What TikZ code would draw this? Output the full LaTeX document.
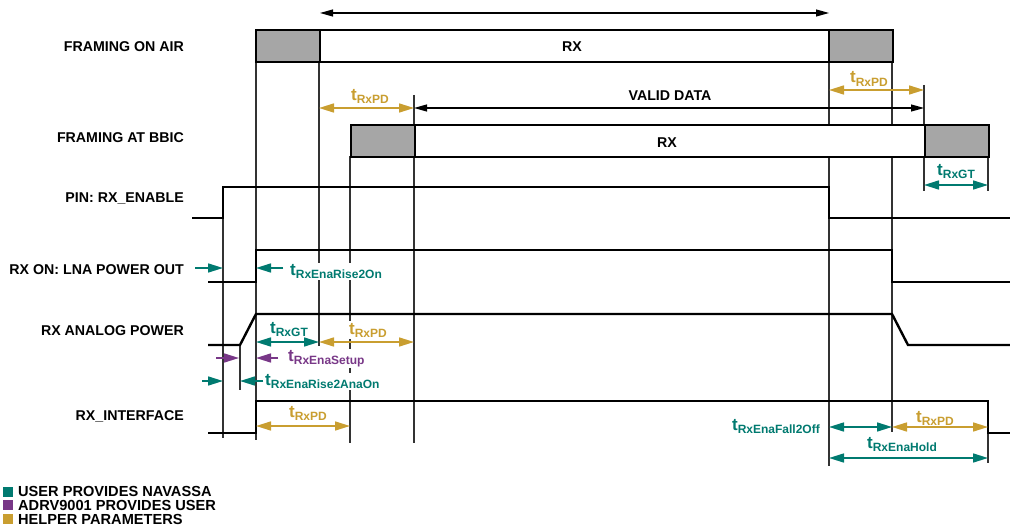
\documentclass[tikz,border=0pt]{standalone}
\usepackage{fontspec}
\setmainfont{Liberation Sans}
\usetikzlibrary{arrows.meta}
\definecolor{tteal}{RGB}{0,122,112}
\definecolor{tgold}{RGB}{201,158,48}
\definecolor{tpurple}{RGB}{120,55,135}
\definecolor{tgray}{RGB}{166,166,166}
\newcommand{\tlab}[1]{{\fontsize{17}{17}\selectfont t}\raisebox{-3.5pt}{\fontsize{12}{12}\selectfont #1}}
\tikzset{
  guide/.style={line width=1.1pt,draw=black!80},
  sig/.style={line width=2.4pt,line join=miter},
  frame/.style={line width=2pt,draw=black},
  grayframe/.style={frame,fill=tgray},
  whiteframe/.style={frame,fill=white},
  rowlab/.style={font=\bfseries\fontsize{14.2}{14.2}\selectfont,anchor=base east,inner sep=0pt},
  txtlab/.style={font=\bfseries\fontsize{14.2}{14.2}\selectfont,anchor=base,inner sep=0pt},
  leglab/.style={font=\bfseries\fontsize{14.6}{14.6}\selectfont,anchor=base west,inner sep=0pt},
  tl/.style={font=\bfseries,anchor=base,inner sep=1.5pt,fill=white},
  dimarr/.style={line width=1.6pt,{Triangle[length=15pt 0,width=9pt 0]}-{Triangle[length=15pt 0,width=9pt 0]}},
  onearr/.style={line width=1.6pt,-{Triangle[length=15pt 0,width=9pt 0]}},
  blkarr/.style={line width=1.2pt,{Triangle[length=13pt 0,width=7pt 0]}-{Triangle[length=13pt 0,width=7pt 0]}},
  teal/.style={draw=tteal,fill=tteal,text=tteal},
  gold/.style={draw=tgold,fill=tgold,text=tgold},
  purp/.style={draw=tpurple,fill=tpurple,text=tpurple},
  blk/.style={draw=black,fill=black},
  legsq/.style={inner sep=0pt,minimum size=9.5pt,anchor=north west}
}
\begin{document}
\begin{tikzpicture}[x=1pt,y=-1pt]
\useasboundingbox (0,0) rectangle (1010,527);

% guides
\draw[guide] (223,187) -- (223,438);
\draw[guide] (240,345) -- (240,390);
\draw[guide] (256,61) -- (256,440);
\draw[guide] (319,61) -- (319,346);
\draw[guide] (350,156) -- (350,443);
\draw[guide] (414,95) -- (414,443);
\draw[guide] (829,61) -- (829,466);
\draw[guide] (892,61) -- (892,432);
\draw[guide] (924,85) -- (924,124);
\draw[guide] (924,156) -- (924,191);
\draw[guide] (988,156) -- (988,191);
\draw[guide] (988,401) -- (988,463);

% framing on air
\node[grayframe,minimum width=64pt,minimum height=32pt,inner sep=0pt,anchor=north west] (ag1) at (255,29) {};
\node[whiteframe,minimum width=509pt,minimum height=32pt,inner sep=0pt,anchor=north west] (arx) at (319,29) {};
\node[grayframe,minimum width=64pt,minimum height=32pt,inner sep=0pt,anchor=north west] (ag2) at (828,29) {};
\node[txtlab] (arxl) at (572,52) {RX};

% framing at bbic
\node[grayframe,minimum width=64pt,minimum height=32pt,inner sep=0pt,anchor=north west] (bg1) at (350,124) {};
\node[whiteframe,minimum width=510pt,minimum height=32pt,inner sep=0pt,anchor=north west] (brx) at (414,124) {};
\node[grayframe,minimum width=64pt,minimum height=32pt,inner sep=0pt,anchor=north west] (bg2) at (924,124) {};
\node[txtlab] (brxl) at (667,147) {RX};

% row labels
\node[rowlab] (l1) at (184,52) {FRAMING ON AIR};
\node[rowlab] (l2) at (184,142) {FRAMING AT BBIC};
\node[rowlab] (l3) at (184,202) {PIN: RX\_ENABLE};
\node[rowlab] (l4) at (184,274) {RX ON: LNA POWER OUT};
\node[rowlab] (l5) at (184,335) {RX ANALOG POWER};
\node[rowlab] (l6) at (184,420) {RX\_INTERFACE};

% signals
\draw[sig] (192,218) -- (223,218) -- (223,187) -- (829,187) -- (829,218) -- (1010,218);
\draw[sig] (208,282) -- (256,282) -- (256,250) -- (892,250) -- (892,282) -- (1010,282);
\draw[sig] (208,345) -- (240,345) -- (256,314) -- (892,314) -- (908,345) -- (1010,345);
\draw[sig] (208,433) -- (256,433) -- (256,401) -- (988,401) -- (988,433) -- (1010,433);

% coordinates for arrows
\coordinate (t1a) at (320,13); \coordinate (t1b) at (829,13);
\coordinate (p1a) at (319,108); \coordinate (p1b) at (414,108); \coordinate (v1b) at (924,108);
\coordinate (p2a) at (829,90); \coordinate (p2b) at (924,90);
\coordinate (g1a) at (924,185); \coordinate (g1b) at (988,185);
\coordinate (g2a) at (256,342); \coordinate (g2b) at (319,342); \coordinate (p3b) at (414,342);
\coordinate (p4a) at (256,426); \coordinate (p4b) at (350,426);
\coordinate (f1a) at (829,427); \coordinate (f1b) at (892,427); \coordinate (p5b) at (988,427);
\coordinate (h1a) at (829,458); \coordinate (h1b) at (988,458);
\coordinate (r1s) at (195,268); \coordinate (r1e) at (223,268);
\coordinate (r2s) at (283,268); \coordinate (r2e) at (256,268);
\coordinate (s1s) at (216,358); \coordinate (s1e) at (239,358);
\coordinate (s2s) at (278,358); \coordinate (s2e) at (256,358);
\coordinate (a1s) at (202,381); \coordinate (a1e) at (223,381);
\coordinate (a2s) at (263,381); \coordinate (a2e) at (240,381);

% labels (white background, drawn before arrows)
\node[tl,text=tgold] (lp1) at (370,100) {\tlab{RxPD}};
\node[txtlab] (lv) at (670,101) {VALID DATA};
\node[tl,text=tgold] (lp2) at (869,83) {\tlab{RxPD}};
\node[tl,text=tteal] (lg1) at (956,175) {\tlab{RxGT}};
\node[tl,text=tteal,anchor=base west,inner sep=1pt] (lr1) at (289,275) {\tlab{RxEnaRise2On}};
\node[tl,text=tteal] (lg2) at (289,333) {\tlab{RxGT}};
\node[tl,text=tgold] (lp3) at (368,334) {\tlab{RxPD}};
\node[tl,text=tpurple,anchor=base west,inner sep=1pt] (ls1) at (287,361) {\tlab{RxEnaSetup}};
\node[tl,text=tteal,anchor=base west,inner sep=1pt] (la1) at (264,385) {\tlab{RxEnaRise2AnaOn}};
\node[tl,text=tgold] (lp4) at (308,417) {\tlab{RxPD}};
\node[tl,text=tteal,anchor=base east,inner sep=1pt] (lf1) at (821,430) {\tlab{RxEnaFall2Off}};
\node[tl,text=tgold] (lp5) at (935,422) {\tlab{RxPD}};
\node[tl,text=tteal] (lh1) at (902,448) {\tlab{RxEnaHold}};

% arrows
\draw[blkarr,blk] (t1a) -- (t1b);
\draw[blkarr,blk] (p1b) -- (v1b);
\draw[dimarr,gold] (p1a) -- (p1b);
\draw[dimarr,gold] (p2a) -- (p2b);
\draw[dimarr,teal] (g1a) -- (g1b);
\draw[dimarr,teal] (g2a) -- (g2b);
\draw[dimarr,gold] (g2b) -- (p3b);
\draw[dimarr,gold] (p4a) -- (p4b);
\draw[dimarr,teal] (f1a) -- (f1b);
\draw[dimarr,gold] (f1b) -- (p5b);
\draw[dimarr,teal] (h1a) -- (h1b);
\draw[onearr,teal] (r1s) -- (r1e);
\draw[onearr,teal] (r2s) -- (r2e);
\draw[onearr,purp] (s1s) -- (s1e);
\draw[onearr,purp] (s2s) -- (s2e);
\draw[onearr,teal] (a1s) -- (a1e);
\draw[onearr,teal] (a2s) -- (a2e);

% legend
\node[legsq,fill=tteal] (sq1) at (3,487) {};
\node[legsq,fill=tpurple] (sq2) at (3,500) {};
\node[legsq,fill=tgold] (sq3) at (3,514) {};
\node[leglab] (lg1t) at (18,496) {USER PROVIDES NAVASSA};
\node[leglab] (lg2t) at (18,510) {ADRV9001 PROVIDES USER};
\node[leglab] (lg3t) at (18,524) {HELPER PARAMETERS};
\end{tikzpicture}
\end{document}
